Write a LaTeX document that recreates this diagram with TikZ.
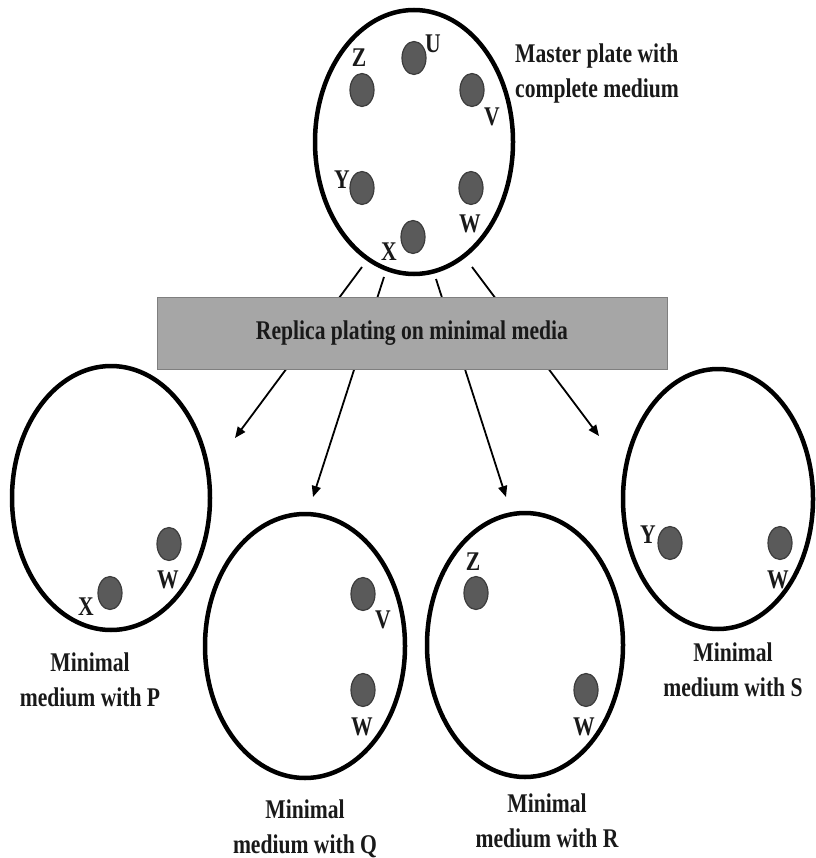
\documentclass[tikz,border=0pt]{standalone}
\usepackage{fontspec}
\setmainfont{Liberation Serif}[FakeStretch=0.8]
\usetikzlibrary{shapes.geometric,arrows.meta}
\definecolor{dotfill}{HTML}{5A5A5A}
\definecolor{dotedge}{HTML}{3C3C3C}
\definecolor{boxfill}{HTML}{A6A6A6}
\definecolor{boxedge}{HTML}{7F7F7F}
\tikzset{
  plate/.style={ellipse, draw=black, line width=4.5pt, fill=white, inner sep=0pt},
  colony/.style={ellipse, draw=dotedge, fill=dotfill, line width=1.2pt, inner sep=0pt, minimum width=24pt, minimum height=33pt},
  lab/.style={font=\fontsize{27pt}{35pt}\selectfont\bfseries, inner sep=0pt, text=black!90},
  caption/.style={lab, align=center},
  conn/.style={line width=1.8pt, -{Triangle[length=11pt,width=9pt]}},
  banner/.style={rectangle, draw=boxedge, fill=boxfill, line width=1pt, minimum width=510pt, minimum height=72pt, font=\fontsize{27pt}{35pt}\selectfont\bfseries, text=black!90}
}
\begin{document}
\begin{tikzpicture}[x=1pt,y=-1pt]
\useasboundingbox (0,0) rectangle (815,858);
% connector ends
\coordinate (sP) at (362,267);
\coordinate (sQ) at (384,277);
\coordinate (sR) at (436,279);
\coordinate (sS) at (472,267);
\coordinate (tP) at (235,438);
\coordinate (tQ) at (313,497);
\coordinate (tR) at (506,497);
\coordinate (tS) at (599,436);
\draw[conn] (sP) -- (tP);
\draw[conn] (sQ) -- (tQ);
\draw[conn] (sR) -- (tR);
\draw[conn] (sS) -- (tS);
% banner
\node[banner] (box) at (412,333) {Replica plating on minimal media};
% master plate
\node[plate, minimum width=198pt, minimum height=264pt] (master) at (414,142) {};
\node[colony] (mU) at (414,58) {};
\node[colony] (mZ) at (362,90) {};
\node[colony] (mV) at (472,90) {};
\node[colony] (mY) at (362,188) {};
\node[colony] (mW) at (471,188) {};
\node[colony] (mX) at (413,237) {};
\node[lab] (lU) at (433,44) {U};
\node[lab] (lZ) at (359,58) {Z};
\node[lab] (lV) at (492,117) {V};
\node[lab] (lY) at (342,180) {Y};
\node[lab] (lW) at (470,224) {W};
\node[lab] (lX) at (389,252) {X};
\node[lab, align=left, anchor=west] (mtext) at (515,74) {Master plate with\\complete medium};
% plate P
\node[plate, minimum width=198pt, minimum height=264pt] (pP) at (111,498) {};
\node[colony] (pW) at (169,544) {};
\node[colony] (pX) at (110,593) {};
\node[lab] (pWl) at (168,580) {W};
\node[lab] (pXl) at (86,607) {X};
\node[caption] (capP) at (90,680) {Minimal\\medium with P};
% plate Q
\node[plate, minimum width=200pt, minimum height=264pt] (pQ) at (305,646) {};
\node[colony] (qV) at (363,594) {};
\node[colony] (qW) at (363,690) {};
\node[lab] (qVl) at (383,620) {V};
\node[lab] (qWl) at (362,727) {W};
\node[caption] (capQ) at (305,829) {Minimal\\medium with Q};
% plate R
\node[plate, minimum width=196pt, minimum height=264pt] (pR) at (525,645) {};
\node[colony] (rZ) at (476,593) {};
\node[colony] (rW) at (586,690) {};
\node[lab] (rZl) at (473,562) {Z};
\node[lab] (rWl) at (584,727) {W};
\node[caption] (capR) at (547,821) {Minimal\\medium with R};
% plate S
\node[plate, minimum width=190pt, minimum height=260pt] (pS) at (718,499) {};
\node[colony] (sYd) at (670,543) {};
\node[colony] (sWd) at (780,543) {};
\node[lab] (sYl) at (648,535) {Y};
\node[lab] (sWl) at (778,580) {W};
\node[caption] (capS) at (733,670) {Minimal\\medium with S};
\end{tikzpicture}
\end{document}
